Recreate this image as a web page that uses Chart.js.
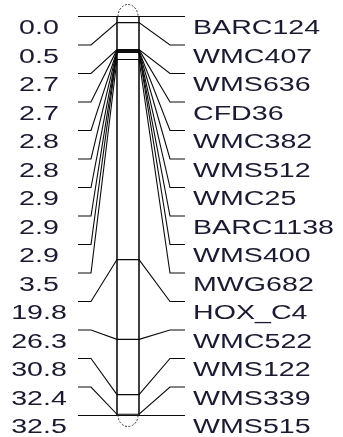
<!DOCTYPE html>
<html><head><meta charset="utf-8">
<script src="https://cdn.jsdelivr.net/npm/chart.js@4/dist/chart.umd.min.js"></script>
<style>html,body{margin:0;padding:0;background:#fff;overflow:hidden}#wrap{width:343px;height:437px}</style>
</head><body><div id="wrap"><canvas id="c" width="343" height="437"></canvas></div>
<script>
// ---- data ----
const markerNames = ['BARC124','WMC407','WMS636','CFD36','WMC382','WMS512','WMC25','BARC1138','WMS400','MWG682','HOX_C4','WMC522','WMS122','WMS339','WMS515'];
const positions = [0.0,0.5,2.7,2.7,2.8,2.8,2.9,2.9,2.9,3.5,19.8,26.3,30.8,32.4,32.5];
const positionLabels = ['0.0','0.5','2.7','2.7','2.8','2.8','2.9','2.9','2.9','3.5','19.8','26.3','30.8','32.4','32.5'];

// ---- layout (pixels along x scale) ----
const X = {stubOutL:78, stubInL:91, chromL:117, chromR:139, stubInR:170, stubOutR:185, textL:39, textR:193};
const minPos = positions[0], maxPos = positions[positions.length-1];
const n = positions.length;
const rowPos = k => minPos + k*(maxPos-minPos)/(n-1);

const datasets = [];
positions.forEach((p,k)=>{
  const r = rowPos(k);
  datasets.push({
    data:[{x:X.stubOutL,y:r},{x:X.stubInL,y:r},{x:X.chromL,y:p},{x:X.chromR,y:p},{x:X.stubInR,y:r},{x:X.stubOutR,y:r}],
    borderColor:'#0a0a0a', borderWidth:1.1, showLine:true, pointRadius:0, tension:0, clip:false
  });
});
[X.chromL, X.chromR].forEach(xv=>{
  datasets.push({data:[{x:xv,y:minPos},{x:xv,y:maxPos}], borderColor:'#111', borderWidth:1.6, showLine:true, pointRadius:0, clip:false});
});

const labelPlugin = {
  id:'labels',
  afterDatasetsDraw(chart){
    const ctx = chart.ctx, xs = chart.scales.x, ys = chart.scales.y;
    const cx = (xs.getPixelForValue(X.chromL)+xs.getPixelForValue(X.chromR))/2;
    const rx = (xs.getPixelForValue(X.chromR)-xs.getPixelForValue(X.chromL))/2;
    ctx.save();
    ctx.strokeStyle='#333'; ctx.lineWidth=1; ctx.setLineDash([2,1.5]);
    ctx.beginPath(); ctx.ellipse(cx, ys.getPixelForValue(minPos), rx-1, 12, 0, Math.PI, 2*Math.PI); ctx.stroke();
    ctx.beginPath(); ctx.ellipse(cx, ys.getPixelForValue(maxPos), rx-1, 11, 0, 0, Math.PI); ctx.stroke();
    ctx.setLineDash([]);
    ctx.fillStyle='#1a1a30';
    ctx.font='20px "Liberation Sans", Arial, sans-serif';
    ctx.textBaseline='middle';
    const sx = 1.43;
    positions.forEach((p,k)=>{
      const y = ys.getPixelForValue(rowPos(k)) + 12;
      ctx.save(); ctx.translate(xs.getPixelForValue(X.textL), y); ctx.scale(sx,1);
      ctx.textAlign='center'; ctx.fillText(positionLabels[k],0,0); ctx.restore();
      ctx.save(); ctx.translate(xs.getPixelForValue(X.textR), y); ctx.scale(sx,1);
      ctx.textAlign='left'; ctx.fillText(markerNames[k],0,0); ctx.restore();
    });
    ctx.restore();
  }
};

new Chart(document.getElementById('c'),{
  type:'scatter',
  data:{datasets},
  options:{
    responsive:false, animation:false, devicePixelRatio:1,
    layout:{padding:{top:16.5,bottom:21.5,left:0,right:0}},
    plugins:{legend:{display:false},tooltip:{enabled:false}},
    scales:{
      x:{type:'linear',min:0,max:343,display:false},
      y:{type:'linear',min:minPos,max:maxPos,reverse:true,display:false}
    }
  },
  plugins:[labelPlugin]
});
</script></body></html>
